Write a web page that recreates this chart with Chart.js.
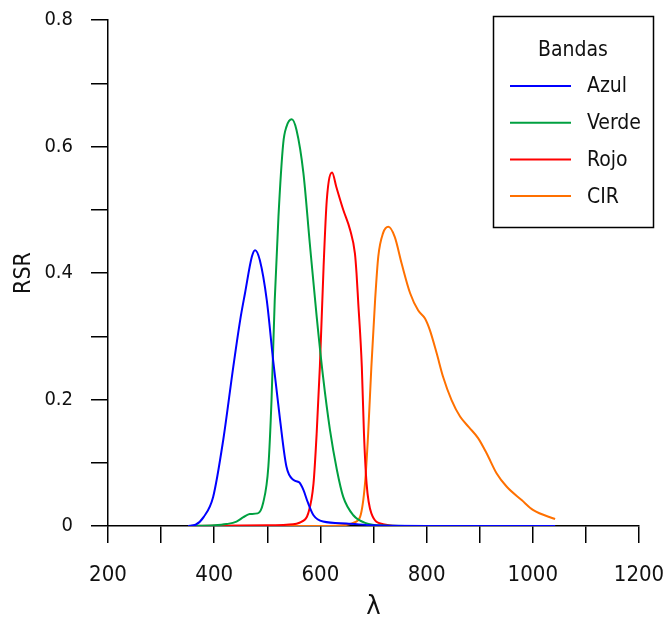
<!DOCTYPE html>
<html>
<head>
<meta charset="utf-8">
<script src="https://cdn.jsdelivr.net/npm/chart.js@4"></script>
<style>
  html, body { margin: 0; padding: 0; background: #fff; }
  #wrap { width: 663px; height: 624px; }
</style>
</head>
<body>
<div id="wrap"><canvas id="rsrChart" width="663" height="624"></canvas></div>
<script>
// Relative spectral response per band (wavelength in nm, RSR)
const azulX = [351, 365, 380, 398, 417, 436, 449, 458, 471, 477, 486, 499, 511, 524, 536, 549, 560, 568, 576, 587, 605, 649, 700, 800, 1042];
const azulY = [0, 0.002, 0.014, 0.046, 0.136, 0.252, 0.326, 0.368, 0.426, 0.436, 0.42, 0.357, 0.262, 0.168, 0.094, 0.073, 0.069, 0.057, 0.038, 0.017, 0.007, 0.004, 0.001, 0, 0];

const verdeX = [351, 400, 423, 442, 455, 467, 482, 492, 502, 508, 514, 521, 530, 536, 546, 555, 568, 580, 593, 605, 618, 631, 643, 662, 687, 712, 760, 1042];
const verdeY = [0, 0.001, 0.003, 0.007, 0.014, 0.019, 0.02, 0.036, 0.094, 0.2, 0.357, 0.489, 0.605, 0.631, 0.643, 0.626, 0.558, 0.447, 0.331, 0.236, 0.152, 0.089, 0.046, 0.017, 0.004, 0.001, 0, 0];

const rojoX = [351, 500, 536, 565, 577, 587, 593, 599, 606, 612, 622, 630, 643, 656, 665, 668, 671, 678, 682, 687, 696, 718, 760, 1042];
const rojoY = [0, 0.001, 0.002, 0.007, 0.02, 0.067, 0.147, 0.252, 0.41, 0.515, 0.559, 0.536, 0.5, 0.468, 0.431, 0.4, 0.357, 0.252, 0.147, 0.067, 0.02, 0.003, 0, 0];

const cirX = [351, 600, 650, 665, 675, 684, 690, 696, 703, 709, 718, 728, 740, 753, 769, 784, 797, 806, 819, 831, 847, 863, 880, 897, 913, 932, 951, 979, 1001, 1042];
const cirY = [0, 0, 0.002, 0.006, 0.015, 0.067, 0.147, 0.252, 0.357, 0.426, 0.463, 0.473, 0.457, 0.415, 0.368, 0.341, 0.328, 0.31, 0.273, 0.236, 0.199, 0.173, 0.156, 0.139, 0.115, 0.083, 0.062, 0.041, 0.025, 0.011];

const bandNames = ['Azul', 'Verde', 'Rojo', 'CIR'];
const bandColors = ['#0000ff', '#00a040', '#ff0000', '#ff7000'];
const legendTitle = 'Bandas';

const FONT = "'Liberation Sans Narrow', 'DejaVu Sans Condensed', sans-serif";

function toPoints(xs, ys) {
  return xs.map((x, i) => ({ x: x, y: ys[i] }));
}

// Boxed legend in the top right corner
const boxLegend = {
  id: 'boxLegend',
  afterDraw(chart) {
    const ctx = chart.ctx;
    ctx.save();
    ctx.strokeStyle = '#000';
    ctx.lineWidth = 1.5;
    ctx.strokeRect(493.5, 16.5, 160, 211);
    ctx.fillStyle = '#111';
    ctx.font = '21px ' + FONT;
    ctx.textAlign = 'center';
    ctx.textBaseline = 'middle';
    ctx.fillText(legendTitle, 573, 51);
    ctx.textAlign = 'left';
    chart.data.datasets.forEach((ds, i) => {
      const y = 86 + i * 36.7;
      ctx.strokeStyle = ds.borderColor;
      ctx.lineWidth = 2;
      ctx.beginPath();
      ctx.moveTo(510, y);
      ctx.lineTo(571, y);
      ctx.stroke();
      ctx.fillText(ds.label, 587, y + 1);
    });
    ctx.restore();
  }
};

const series = [[azulX, azulY], [verdeX, verdeY], [rojoX, rojoY], [cirX, cirY]];

new Chart(document.getElementById('rsrChart'), {
  type: 'scatter',
  data: {
    datasets: series.map((s, i) => ({
      label: bandNames[i],
      data: toPoints(s[0], s[1]),
      showLine: true,
      borderColor: bandColors[i],
      backgroundColor: bandColors[i],
      borderWidth: 2,
      pointRadius: 0,
      cubicInterpolationMode: 'monotone'
    }))
  },
  options: {
    responsive: false,
    animation: false,
    devicePixelRatio: 1,
    layout: { padding: { left: 0, top: 20, right: 24, bottom: 0 } },
    plugins: { legend: { display: false }, tooltip: { enabled: false } },
    scales: {
      x: {
        type: 'linear',
        min: 200,
        max: 1200,
        afterFit: s => { s.height = 98; s.paddingLeft = 0; s.paddingRight = 0; },
        border: { display: true, color: '#000', width: 1.5 },
        grid: { drawOnChartArea: false, drawTicks: true, tickLength: 17, color: '#000', lineWidth: 1.5 },
        ticks: {
          stepSize: 100,
          autoSkip: false,
          maxRotation: 0,
          padding: 19,
          color: '#111',
          font: { family: FONT, size: 22 },
          callback: v => (v % 200 === 0 ? String(v) : '')
        },
        title: { display: true, text: 'λ', color: '#111', font: { family: FONT, size: 27 }, padding: { top: 0, bottom: 1 } }
      },
      y: {
        min: 0,
        max: 0.8,
        afterFit: s => { s.width = 108; s.paddingTop = 0; s.paddingBottom = 0; },
        border: { display: true, color: '#000', width: 1.5 },
        grid: { drawOnChartArea: false, drawTicks: true, tickLength: 17, color: '#000', lineWidth: 1.5 },
        ticks: {
          stepSize: 0.1,
          autoSkip: false,
          padding: 18,
          color: '#111',
          font: { family: FONT, size: 20 },
          callback: v => {
            const k = Math.round(v * 10);
            return k % 2 === 0 ? String(k / 10) : '';
          }
        },
        title: { display: true, text: 'RSR', color: '#111', font: { family: FONT, size: 23 }, padding: { top: 10, bottom: 0 } }
      }
    }
  },
  plugins: [boxLegend]
});
</script>
</body>
</html>
